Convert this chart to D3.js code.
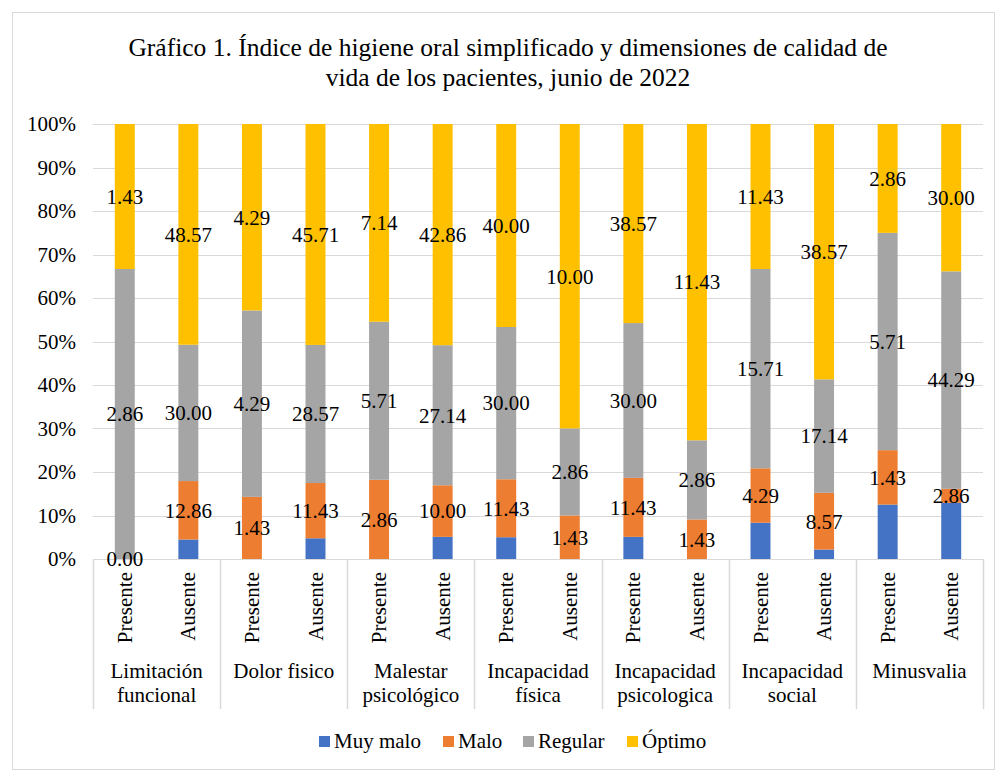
<!DOCTYPE html>
<html>
<head>
<meta charset="utf-8">
<script src="https://cdn.jsdelivr.net/npm/d3@7"></script>
<style>
  html, body { margin: 0; padding: 0; background: #fff; }
  svg text { font-family: "Liberation Serif", "Times New Roman", serif; fill: #000; }
</style>
</head>
<body>
<svg id="chart" width="998" height="773"></svg>
<script>
// ---- Data ----
const titleLines = ["Gráfico 1. Índice de higiene oral simplificado y dimensiones de calidad de",
                    "vida de los pacientes, junio de 2022"];
const groups = [["Limitación", "funcional"], ["Dolor fisico"], ["Malestar", "psicológico"],
                ["Incapacidad", "física"], ["Incapacidad", "psicologica"], ["Incapacidad", "social"], ["Minusvalia"]];
const subLabels = ["Presente", "Ausente"];
const seriesNames = ["Muy malo", "Malo", "Regular", "Óptimo"];
const seriesColors = ["#4472C4", "#ED7D31", "#A5A5A5", "#FFC000"];
// values per bar (Presente, Ausente for each group)
const muyMalo = [0, 4.29, 0, 4.29, 0, 4.29, 4.29, 0, 4.29, 0, 2.86, 1.43, 1.43, 11.43];
const malo    = [0, 12.86, 1.43, 11.43, 2.86, 10.00, 11.43, 1.43, 11.43, 1.43, 4.29, 8.57, 1.43, 2.86];
const regular = [2.86, 30.00, 4.29, 28.57, 5.71, 27.14, 30.00, 2.86, 30.00, 2.86, 15.71, 17.14, 5.71, 44.29];
const optimo  = [1.43, 48.57, 4.29, 45.71, 7.14, 42.86, 40.00, 10.00, 38.57, 11.43, 11.43, 38.57, 2.86, 30.00];
const showLabels = [false, true, true, true];
const yTicks = [0, 0.1, 0.2, 0.3, 0.4, 0.5, 0.6, 0.7, 0.8, 0.9, 1.0];

// ---- Build ----
const seriesArrays = [muyMalo, malo, regular, optimo];
const bars = muyMalo.map((_, i) => {
  const row = { id: i };
  seriesNames.forEach((s, k) => row[s] = seriesArrays[k][i]);
  return row;
});
const stacked = d3.stack().keys(seriesNames).offset(d3.stackOffsetExpand)(bars);

const svg = d3.select("#chart");
const m = { left: 93, right: 983, top: 124, bottom: 559 };
const FS = "21px";

svg.append("rect").attr("x", 12.5).attr("y", 12.5).attr("width", 982).attr("height", 757)
  .attr("fill", "#fff").attr("stroke", "#D9D9D9").attr("stroke-width", 1);

// Title
svg.append("text").attr("x", 508).attr("y", 56).attr("text-anchor", "middle")
  .style("font-size", "25.5px")
  .selectAll("tspan").data(titleLines).join("tspan")
  .attr("x", 508).attr("dy", (d, i) => i === 0 ? 0 : 30).text(d => d);

const x = d3.scaleBand().domain(d3.range(bars.length)).range([m.left, m.right]).paddingInner(0.686).paddingOuter(0.343);
const y = d3.scaleLinear().domain([0, 1]).range([m.bottom, m.top]);

// gridlines
svg.append("g").selectAll("line").data(yTicks).join("line")
  .attr("x1", m.left).attr("x2", m.right)
  .attr("y1", d => Math.round(y(d)) + 0.5).attr("y2", d => Math.round(y(d)) + 0.5)
  .attr("stroke", "#D9D9D9").attr("stroke-width", 1);

// y axis labels
const yAxis = d3.axisLeft(y).tickValues(yTicks).tickFormat(d3.format(".0%")).tickSize(0).tickPadding(17);
const gy = svg.append("g").attr("transform", `translate(${m.left},0)`).call(yAxis);
gy.select(".domain").remove();
gy.selectAll("text").style("font-size", FS).style("font-family", "Liberation Serif, serif").attr("fill", "#000");

// bars
svg.append("g").selectAll("g").data(stacked).join("g")
  .attr("fill", (d, k) => seriesColors[k])
  .selectAll("rect").data(d => d).join("rect")
  .attr("x", (d, i) => x(i))
  .attr("width", x.bandwidth())
  .attr("y", d => y(d[1]))
  .attr("height", d => y(d[0]) - y(d[1]));

// data labels
stacked.forEach((ser, k) => {
  if (!showLabels[k]) return;
  svg.append("g").selectAll("text").data(ser).join("text")
    .attr("x", (d, i) => x(i) + x.bandwidth() / 2)
    .attr("y", d => y((d[0] + d[1]) / 2))
    .attr("dy", "0.35em")
    .attr("text-anchor", "middle")
    .style("font-size", FS)
    .text((d, i) => d3.format(".2f")(seriesArrays[k][i]));
});

// category axis separators
const groupStep = (m.right - m.left) / groups.length;
svg.append("g").selectAll("line").data(d3.range(groups.length + 1)).join("line")
  .attr("x1", i => Math.round(m.left + i * groupStep) + 0.5)
  .attr("x2", i => Math.round(m.left + i * groupStep) + 0.5)
  .attr("y1", m.bottom).attr("y2", 709)
  .attr("stroke", "#D9D9D9").attr("stroke-width", 1.5);

// sub labels rotated
svg.append("g").selectAll("text").data(bars).join("text")
  .attr("transform", (d, i) => `translate(${x(i) + x.bandwidth() / 2 + 7},572) rotate(-90)`)
  .attr("text-anchor", "end")
  .style("font-size", FS)
  .text((d, i) => subLabels[i % 2]);

// group labels
groups.forEach((lines, g) => {
  const cx = m.left + (g + 0.5) * groupStep;
  svg.append("text").attr("text-anchor", "middle").style("font-size", FS)
    .selectAll("tspan").data(lines).join("tspan")
    .attr("x", cx).attr("y", (d, i) => 678 + i * 24).text(d => d);
});

// legend
const legendX = [319, 443, 523, 627];
const lg = svg.append("g").selectAll("g").data(seriesNames).join("g")
  .attr("transform", (d, i) => `translate(${legendX[i]},736)`);
lg.append("rect").attr("width", 11).attr("height", 11).attr("fill", (d, i) => seriesColors[i]);
lg.append("text").attr("x", 15).attr("y", 12).style("font-size", FS).text(d => d);
</script>
</body>
</html>
